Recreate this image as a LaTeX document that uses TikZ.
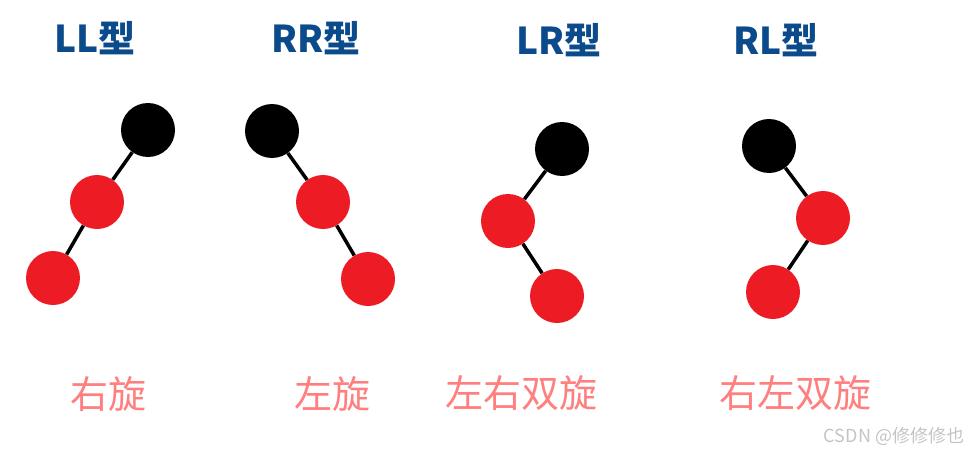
\documentclass[tikz,border=0pt]{standalone}
\usepackage{fontspec}
\newfontfamily\cjk{Noto Sans CJK SC}
\definecolor{titleblue}{HTML}{0B4A8B}
\definecolor{nodered}{HTML}{ED1C24}
\definecolor{rotpink}{HTML}{FF7F7F}
\definecolor{markgray}{HTML}{C4C4C4}
\begin{document}
\begin{tikzpicture}[x=1pt,y=-1pt,
    blacknode/.style={circle,fill=black,minimum size=54pt,inner sep=0pt},
    rednode/.style={circle,fill=nodered,minimum size=54pt,inner sep=0pt},
    edge/.style={draw=black,line width=3.5pt},
    title/.style={text=titleblue,font=\cjk\bfseries\fontsize{37}{37}\selectfont},
    rot/.style={text=rotpink,font=\cjk\fontsize{38}{38}\selectfont}]
        \useasboundingbox (0,0) rectangle (971,452);
        % titles
        \node[title] (llT) at (95,38) {LL型};
        \node[title] (rrT) at (316,38) {RR型};
        \node[title] (lrT) at (559,40) {LR型};
        \node[title] (rlT) at (776,40) {RL型};
        % LL
        \node[blacknode] (llA) at (148,130) {};
        \node[rednode] (llB) at (97,202) {};
        \node[rednode] (llC) at (53,278) {};
        % RR
        \node[blacknode] (rrA) at (272,131) {};
        \node[rednode] (rrB) at (323,202) {};
        \node[rednode] (rrC) at (368,279) {};
        % LR
        \node[blacknode] (lrA) at (562,149) {};
        \node[rednode] (lrB) at (508,221) {};
        \node[rednode] (lrC) at (557,296) {};
        % RL
        \node[blacknode] (rlA) at (769,146) {};
        \node[rednode] (rlB) at (823,218) {};
        \node[rednode] (rlC) at (773,292) {};
        % edges
        \draw[edge] (llA) -- (llB) (llB) -- (llC);
        \draw[edge] (rrA) -- (rrB) (rrB) -- (rrC);
        \draw[edge] (lrA) -- (lrB) (lrB) -- (lrC);
        \draw[edge] (rlA) -- (rlB) (rlB) -- (rlC);
        % rotations
        \node[rot] (llR) at (108,394) {右旋};
        \node[rot] (rrR) at (332,394) {左旋};
        \node[rot] (lrR) at (521,393) {左右双旋};
        \node[rot] (rlR) at (795,393) {右左双旋};
        \node[text=markgray,font=\cjk\fontsize{18}{18}\selectfont] (mark) at (894,436) {CSDN @修修修也};
    \end{tikzpicture}
\end{document}
